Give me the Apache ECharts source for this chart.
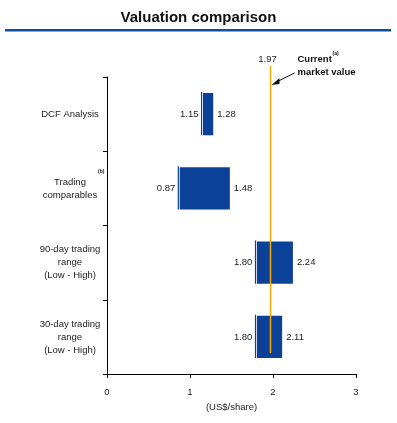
<!DOCTYPE html>
<html>
<head>
<meta charset="utf-8">
<script src="https://cdn.jsdelivr.net/npm/echarts@6/dist/echarts.min.js"></script>
<style>
  html, body { margin: 0; padding: 0; background: #fff; }
  #chart { width: 397px; height: 423px; }
</style>
</head>
<body>
<div id="chart"></div>
<script>
// Chart data
var categories = ['DCF Analysis', 'Trading\ncomparables', '90-day trading\nrange\n(Low - High)', '30-day trading\nrange\n(Low - High)'];
var lowValues = [1.15, 0.87, 1.80, 1.80];
var highValues = [1.28, 1.48, 2.24, 2.11];
var marketValue = 1.97;
var xMin = 0, xMax = 3, xStep = 1;

var FONT = "'Liberation Sans', Arial, sans-serif";
var BAR_BLUE = '#0b4199';
var ORANGE = '#f9a800';

var chart = echarts.init(document.getElementById('chart'));

var rangeData = categories.map(function (c, i) { return [lowValues[i], highValues[i], i]; });

// Range bar: thin marker line, small gap, then filled block
function renderRange(params, api) {
  var lo = api.coord([api.value(0), api.value(2)]);
  var hi = api.coord([api.value(1), api.value(2)]);
  var h = api.size([0, 1])[1] * 0.57;
  var y = lo[1] - h / 2;
  return {
    type: 'group',
    children: [
      { type: 'rect', shape: { x: lo[0] - 1.5, y: y - 1, width: 1.2, height: h + 1 }, style: { fill: BAR_BLUE } },
      { type: 'rect', shape: { x: lo[0] + 0.5, y: y, width: hi[0] - lo[0] - 0.5, height: h }, style: { fill: BAR_BLUE } },
      { type: 'text', style: { x: lo[0] - 4, y: lo[1], text: api.value(0).toFixed(2), align: 'right', verticalAlign: 'middle', font: '9.5px ' + FONT, fill: '#222' } },
      { type: 'text', style: { x: hi[0] + 4, y: lo[1], text: api.value(1).toFixed(2), align: 'left', verticalAlign: 'middle', font: '9.5px ' + FONT, fill: '#222' } }
    ]
  };
}

// Current market value line with its annotation
function renderMarket(params, api) {
  var cs = params.coordSys;
  var x = api.coord([api.value(0), 0])[0];
  var top = cs.y - 11;
  var bottom = cs.y + cs.height - 21;
  return {
    type: 'group',
    children: [
      { type: 'line', shape: { x1: x, y1: top, x2: x, y2: bottom }, style: { stroke: ORANGE, lineWidth: 1.5 } },
      { type: 'text', style: { x: x - 3, y: top - 7, text: api.value(0).toFixed(2), align: 'center', verticalAlign: 'middle', font: '9.5px ' + FONT, fill: '#222' } },
      { type: 'text', style: { x: x + 27, y: top - 7, text: 'Current', align: 'left', verticalAlign: 'middle', font: 'bold 9.5px ' + FONT, fill: '#111' } },
      { type: 'text', style: { x: x + 62, y: top - 12, text: '(a)', align: 'left', verticalAlign: 'middle', font: 'bold 5px ' + FONT, fill: '#111' } },
      { type: 'text', style: { x: x + 27, y: top + 6, text: 'market value', align: 'left', verticalAlign: 'middle', font: 'bold 9.5px ' + FONT, fill: '#111' } },
      { type: 'line', shape: { x1: x + 24, y1: top + 7, x2: x + 6, y2: top + 16 }, style: { stroke: '#111', lineWidth: 1 } },
      { type: 'polygon', shape: { points: [[x + 1, top + 19], [x + 9, top + 12], [x + 9, top + 18]] }, style: { fill: '#111' } }
    ]
  };
}

var option = {
  backgroundColor: '#fff',
  animation: false,
  title: {
    text: 'Valuation comparison',
    left: 'center',
    top: 5,
    textStyle: { fontFamily: FONT, fontSize: 15, fontWeight: 'bold', color: '#111' }
  },
  graphic: [
    { type: 'rect', shape: { x: 5, y: 29, width: 386, height: 2.5 }, style: { fill: '#0b4ea2' } },
    { type: 'text', style: { x: 98, y: 169, text: '(b)', font: 'bold 5px ' + FONT, fill: '#111' } }
  ],
  grid: { left: 107, right: 41, top: 77, bottom: 49 },
  xAxis: {
    type: 'value',
    min: xMin, max: xMax, interval: xStep,
    name: '(US$/share)',
    nameLocation: 'middle',
    nameGap: 28,
    nameTextStyle: { fontFamily: FONT, fontSize: 9.5, color: '#222' },
    axisLine: { show: true, lineStyle: { color: '#000', width: 1 } },
    axisTick: { show: true, length: 4, lineStyle: { color: '#000' } },
    axisLabel: { fontFamily: FONT, fontSize: 9.5, color: '#222', margin: 13 },
    splitLine: { show: false }
  },
  yAxis: {
    type: 'category',
    inverse: true,
    data: categories,
    axisLine: { show: true, lineStyle: { color: '#000', width: 1 } },
    axisTick: { show: true, length: 4, lineStyle: { color: '#000' } },
    axisLabel: { fontFamily: FONT, fontSize: 9.5, color: '#222', align: 'center', margin: 37, lineHeight: 13 }
  },
  series: [
    { type: 'custom', renderItem: renderRange, data: rangeData, encode: { x: [0, 1], y: 2 }, z: 2 },
    { type: 'custom', renderItem: renderMarket, data: [[marketValue]], encode: { x: 0 }, z: 5, clip: false }
  ]
};

chart.setOption(option);

window.addEventListener('resize', function () {
  chart.resize();
});
</script>
</body>
</html>
